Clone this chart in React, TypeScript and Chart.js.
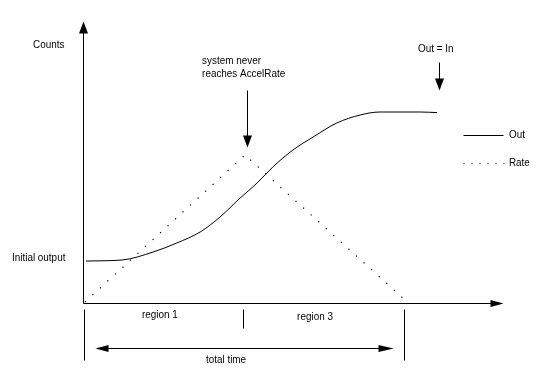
import React, { useEffect, useRef } from "react";
import { Chart, registerables } from "chart.js";

Chart.register(...registerables);

// ---- data (time units, count units) ----
const outTime = [0.06, 1.19, 2.16, 2.9, 3.63, 4.25, 4.88, 5.41, 5.9, 6.53, 7.16, 7.9, 8.63, 9.25, 10.5, 11.03];
const outCounts = [21, 21.5, 25.5, 30, 35.5, 43, 52.5, 60, 68, 76.5, 83, 90, 94, 95.5, 95.5, 95.2];
const rateTime = [0.03, 5.03, 10.1];
const rateCounts = [0.5, 74, 0.5];

const regionBounds = [0, 5, 10];
const regionLabels = ["region 1", "region 3"];
const seriesLabels = ["Out", "Rate"];
const axisLabels = ["Counts", "Initial output"];
const noteAccel = ["system never", "reaches AccelRate"];
const noteOutIn = "Out = In";
const totalLabel = "total time";

const X_MIN = -2.625;
const X_MAX = 14.28125;
const Y_MIN = -36;
const Y_MAX = 151.5;

const FONT = "11px 'Liberation Sans', Arial, sans-serif";
const TEXT_SQUEEZE = 0.9;

const diagramPlugin = {
  id: "diagram",
  afterDatasetsDraw(chart: any) {
    const ctx = chart.ctx as CanvasRenderingContext2D;
    const xs = chart.scales.x;
    const ys = chart.scales.y;
    const px = (t: number) => Math.round(xs.getPixelForValue(t)) + 0.5;
    const py = (v: number) => Math.round(ys.getPixelForValue(v)) + 0.5;
    ctx.save();
    ctx.strokeStyle = "#000";
    ctx.fillStyle = "#000";
    ctx.lineWidth = 1;
    ctx.setLineDash([]);

    const line = (x1: number, y1: number, x2: number, y2: number) => {
      ctx.beginPath();
      ctx.moveTo(x1, y1);
      ctx.lineTo(x2, y2);
      ctx.stroke();
    };
    const tri = (pts: number[][]) => {
      ctx.beginPath();
      ctx.moveTo(pts[0][0], pts[0][1]);
      ctx.lineTo(pts[1][0], pts[1][1]);
      ctx.lineTo(pts[2][0], pts[2][1]);
      ctx.closePath();
      ctx.fill();
    };

    // axes
    const ox = px(-0.03);
    const oy = py(0);
    const yTop = py(141);
    const xEnd = px(13.09);
    line(ox, oy, ox, yTop + 10);
    tri([[ox, yTop], [ox - 4.5, yTop + 12], [ox + 4.5, yTop + 12]]);
    line(ox, oy, xEnd - 10, oy);
    tri([[xEnd, oy], [xEnd - 13, oy - 3.5], [xEnd - 13, oy + 3.5]]);

    // region ticks
    const tickTop = py(-3);
    line(px(regionBounds[0]), tickTop, px(regionBounds[0]), py(-28.5));
    line(px(regionBounds[1]) - 1, tickTop, px(regionBounds[1]) - 1, py(-12.5));
    line(px(regionBounds[2]), tickTop, px(regionBounds[2]), py(-28.5));

    // total time arrow
    const ty = py(-22.5);
    const tl = px(0.35);
    const tr = px(9.66);
    line(tl + 8, ty, tr - 8, ty);
    tri([[tl, ty], [tl + 13, ty - 3.5], [tl + 13, ty + 3.5]]);
    tri([[tr, ty], [tr - 15, ty - 3.5], [tr - 15, ty + 3.5]]);

    // annotation arrows
    const a1x = px(5.09);
    const a1tip = py(78);
    line(a1x, py(106.5), a1x, a1tip - 8);
    tri([[a1x, a1tip], [a1x - 4.5, a1tip - 12], [a1x + 4.5, a1tip - 12]]);
    const a2x = px(11.09);
    const a2tip = py(106.5);
    line(a2x, py(120.5), a2x, a2tip - 8);
    tri([[a2x, a2tip], [a2x - 4.5, a2tip - 12], [a2x + 4.5, a2tip - 12]]);

    // legend samples
    const lx1 = px(11.84);
    const lx2 = px(13.09);
    line(lx1, py(84), lx2, py(84));
    ctx.setLineDash([1, 7]);
    line(lx1, py(70), lx2 + 2, py(70));
    ctx.setLineDash([]);

    // texts
    ctx.font = FONT;
    ctx.textBaseline = "middle";
    ctx.textAlign = "left";
    const text = (s: string, t: number, v: number) => {
      ctx.save();
      ctx.translate(xs.getPixelForValue(t), ys.getPixelForValue(v));
      ctx.scale(TEXT_SQUEEZE, 1);
      ctx.fillText(s, 0, 0);
      ctx.restore();
    };
    text(axisLabels[0], -1.59, 129);
    text(axisLabels[1], -2.25, outCounts[0] + 1.5);
    text(noteAccel[0], 3.69, 121);
    text(noteAccel[1], 3.69, 114.5);
    text(noteOutIn, 10.44, 127);
    text(regionLabels[0], 1.81, -6);
    text(regionLabels[1], 6.66, -7);
    text(totalLabel, 3.81, -28.5);
    text(seriesLabels[0], 13.28, 84);
    text(seriesLabels[1], 13.28, 70);
    ctx.restore();
  },
};

export default function App() {
  const ref = useRef<HTMLCanvasElement>(null);
  useEffect(() => {
    if (!ref.current) return;
    const chart = new Chart(ref.current, {
      type: "line",
      data: {
        datasets: [
          {
            label: seriesLabels[0],
            data: outTime.map((t, i) => ({ x: t, y: outCounts[i] })),
            borderColor: "#000",
            borderWidth: 1,
            pointRadius: 0,
            fill: false,
            cubicInterpolationMode: "monotone",
          },
          {
            label: seriesLabels[1],
            data: rateTime.map((t, i) => ({ x: t, y: rateCounts[i] })),
            borderColor: "#000",
            borderWidth: 1.2,
            borderDash: [1.2, 9],
            pointRadius: 0,
            fill: false,
            tension: 0,
          },
        ],
      },
      options: {
        responsive: false,
        animation: false,
        layout: { padding: 0 },
        plugins: { legend: { display: false }, tooltip: { enabled: false }, title: { display: false } },
        scales: {
          x: { type: "linear", min: X_MIN, max: X_MAX, display: false },
          y: { type: "linear", min: Y_MIN, max: Y_MAX, display: false },
        },
      },
      plugins: [diagramPlugin],
    });
    return () => chart.destroy();
  }, []);
  return (
    <div style={{ position: "fixed", left: 0, top: 0, width: 541, height: 375, background: "#fff" }}>
      <canvas ref={ref} width={541} height={375} style={{ display: "block" }} />
    </div>
  );
}
